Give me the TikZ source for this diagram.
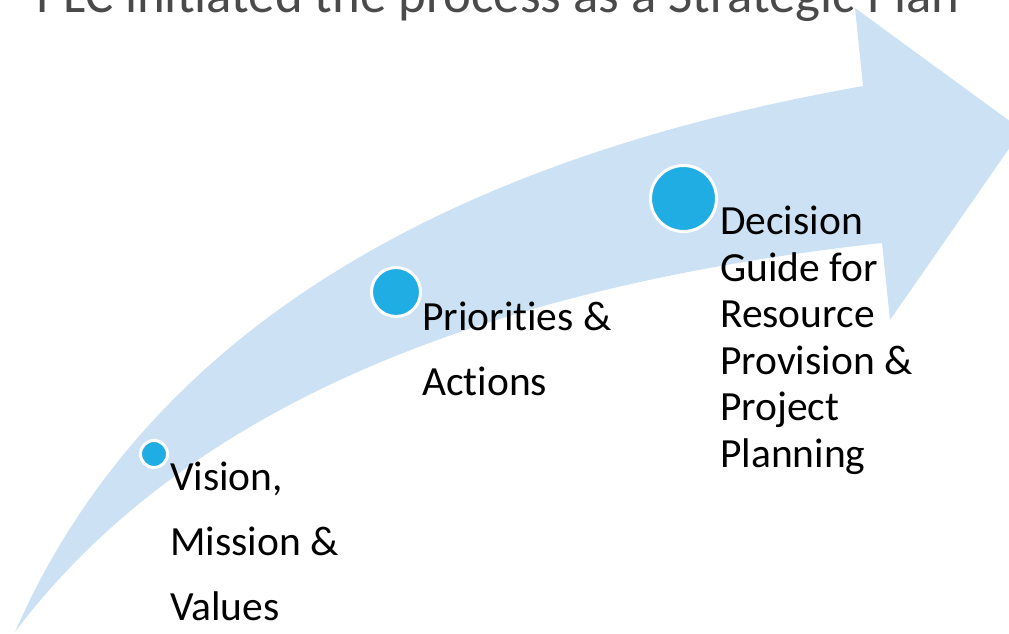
\documentclass[tikz,border=0pt]{standalone}
\usepackage{fontspec}
\setmainfont{Carlito}[Ligatures=NoCommon]
\definecolor{arrowfill}{HTML}{CCE2F4}
\definecolor{dotblue}{HTML}{1FADE3}
\definecolor{titlegrey}{HTML}{4A4A4A}
\begin{document}
\begin{tikzpicture}[x=1pt,y=-1pt,
  dot/.style={circle,fill=dotblue,draw=white,line width=3pt,inner sep=0pt},
  label/.style={anchor=base west,inner sep=0pt,align=left,text=black},
  tight/.style={font=\fontsize{41.5}{46.5}\selectfont},
  loose/.style={font=\fontsize{41.5}{65}\selectfont}]
\useasboundingbox (0,0) rectangle (1009,634);
% curved arrow
\fill[arrowfill] (15,632) .. controls (160,300) and (500,150) .. (863,86)
  -- (855,8) -- (1022,130) -- (890,320) -- (882,243)
  .. controls (500,285) and (190,400) .. (15,632) -- cycle;
% title (cut off at the top edge, as in the reference)
\node[anchor=base west,inner sep=0pt,text=titlegrey,font=\fontsize{52.8}{60}\selectfont] (title) at (36,13) {PLC initiated the process as a Strategic Plan};
% dots
\node[dot,minimum size=27pt] (d1) at (154,454) {};
\node[dot,minimum size=49pt] (d2) at (396,292) {};
\node[dot,minimum size=66pt] (d3) at (683.5,198.5) {};
% labels (anchored at the baseline of their last line)
\node[label,loose] (t1) at (170,620) {Vision,\\Mission \&\\Values};
\node[label,loose] (t2) at (422,395) {Priorities \&\\Actions};
\node[label,tight] (t3) at (720,467) {Decision\\Guide for\\Resource\\Provision \&\\Project\\Planning};
\end{tikzpicture}
\end{document}
